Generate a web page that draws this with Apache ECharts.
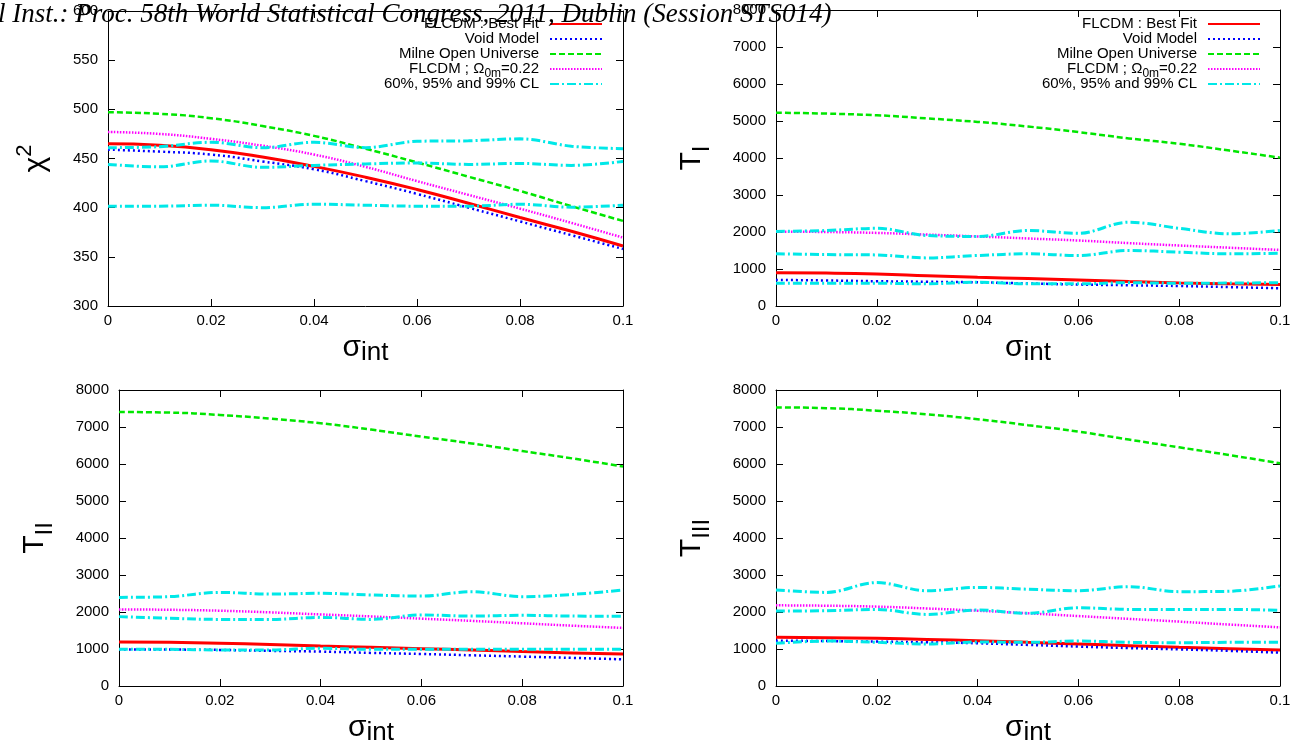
<!DOCTYPE html>
<html>
<head>
<meta charset="utf-8">
<script src="https://cdn.jsdelivr.net/npm/echarts@6/dist/echarts.min.js"></script>
<style>
  html, body { margin: 0; padding: 0; background: #fff; }
  #main { width: 1291px; height: 742px; }
</style>
</head>
<body>
<div id="main"></div>
<script>
var sigma = [0, 0.01, 0.02, 0.03, 0.04, 0.05, 0.06, 0.07, 0.08, 0.09, 0.1];
var names = ['FLCDM : Best Fit', 'Void Model', 'Milne Open Universe', 'FLCDM ; Ω0m=0.22', '60%, 95% and 99% CL'];

// chi^2
var chiBest  = [465, 463.5, 459, 451.5, 442, 431, 418.5, 404.5, 390, 376, 361];
var chiVoid  = [459, 457, 454, 447, 439, 427, 414, 400, 386, 372, 358];
var chiMilne = [497, 495.5, 491, 483, 473, 460, 446, 431.5, 417, 401.5, 386.5];
var chiLcdm  = [477, 475, 470, 463, 454, 441.5, 427, 413, 399, 384.5, 369.5];
var chiCL1   = [461, 462, 466.5, 461, 466.5, 461, 467.5, 468, 470, 462.5, 460];
var chiCL2   = [444, 441.5, 447.5, 441, 443, 444.5, 445.5, 444, 445, 443, 447];
var chiCL3   = [401.5, 401.5, 402.5, 400, 403.5, 402.5, 401.5, 401.5, 403.5, 400.5, 402.5];

// T_I
var t1Best  = [900, 890, 865, 820, 775, 740, 705, 660, 625, 600, 580];
var t1Void  = [705, 690, 670, 655, 640, 610, 580, 560, 540, 510, 480];
var t1Milne = [5225, 5200, 5155, 5070, 4975, 4850, 4700, 4530, 4385, 4200, 4010];
var t1Lcdm  = [2010, 2000, 1975, 1930, 1880, 1825, 1770, 1700, 1635, 1575, 1515];
var t1CL1   = [2015, 2040, 2100, 1905, 1880, 2040, 1965, 2265, 2100, 1950, 2040];
var t1CL2   = [1410, 1390, 1380, 1300, 1365, 1410, 1365, 1500, 1455, 1410, 1425];
var t1CL3   = [615, 615, 615, 600, 640, 600, 600, 630, 615, 620, 630];

// T_II
var t2Best  = [1190, 1180, 1155, 1120, 1080, 1045, 1010, 970, 930, 895, 865];
var t2Void  = [990, 985, 975, 950, 930, 895, 865, 830, 795, 760, 720];
var t2Milne = [7405, 7390, 7325, 7225, 7100, 6930, 6740, 6555, 6350, 6150, 5930];
var t2Lcdm  = [2070, 2060, 2035, 1990, 1935, 1880, 1820, 1760, 1695, 1630, 1570];
var t2CL1   = [2395, 2415, 2530, 2485, 2505, 2460, 2430, 2550, 2415, 2475, 2595];
var t2CL2   = [1875, 1830, 1800, 1800, 1855, 1800, 1920, 1890, 1910, 1890, 1885];
var t2CL3   = [990, 990, 975, 975, 1020, 990, 990, 990, 990, 990, 990];

// T_III
var t3Best  = [1315, 1305, 1290, 1260, 1225, 1180, 1135, 1090, 1045, 1010, 975];
var t3Void  = [1225, 1215, 1200, 1180, 1155, 1110, 1065, 1025, 990, 950, 900];
var t3Milne = [7530, 7510, 7440, 7340, 7210, 7050, 6875, 6660, 6450, 6240, 6020];
var t3Lcdm  = [2180, 2170, 2145, 2095, 2035, 1965, 1890, 1815, 1740, 1660, 1585];
var t3CL1   = [2595, 2530, 2795, 2575, 2665, 2615, 2575, 2685, 2550, 2560, 2705];
var t3CL2   = [2025, 2035, 2070, 1935, 2055, 1965, 2115, 2070, 2070, 2070, 2045];
var t3CL3   = [1155, 1215, 1180, 1135, 1190, 1180, 1215, 1180, 1170, 1180, 1180];

var panels = [
  { grid: { left: 108, top: 11, width: 515, height: 295 }, min: 300, max: 600, step: 50,
    yName: 'χ{sup|2}', lines: [chiBest, chiVoid, chiMilne, chiLcdm], cl: [chiCL1, chiCL2, chiCL3] },
  { grid: { left: 776, top: 10, width: 504, height: 296 }, min: 0, max: 8000, step: 1000,
    yName: 'T{sub|I}', lines: [t1Best, t1Void, t1Milne, t1Lcdm], cl: [t1CL1, t1CL2, t1CL3] },
  { grid: { left: 119, top: 390, width: 504, height: 296 }, min: 0, max: 8000, step: 1000,
    yName: 'T{sub|II}', lines: [t2Best, t2Void, t2Milne, t2Lcdm], cl: [t2CL1, t2CL2, t2CL3] },
  { grid: { left: 776, top: 390, width: 504, height: 296 }, min: 0, max: 8000, step: 1000,
    yName: 'T{sub|III}', lines: [t3Best, t3Void, t3Milne, t3Lcdm], cl: [t3CL1, t3CL2, t3CL3] }
];

var styles = [
  { color: '#ff0000', width: 3, type: 'solid' },
  { color: '#0000ff', width: 2.5, type: [2, 3] },
  { color: '#00e600', width: 2.5, type: [6, 3] },
  { color: '#ff00ff', width: 2.5, type: [1.5, 1.5] },
  { color: '#00e8e8', width: 3, type: [9, 3, 2, 3] }
];

var font = 'Liberation Sans';
var grids = [], xAxes = [], yAxes = [], series = [];

function pairs(arr) {
  return sigma.map(function (s, k) { return [s, arr[k]]; });
}
function tick() {
  return { show: true, inside: true, length: 7, lineStyle: { color: '#000', width: 1 } };
}
function axLine() {
  return { show: true, onZero: false, lineStyle: { color: '#000', width: 1 } };
}

panels.forEach(function (p, i) {
  var g = p.grid;
  grids.push({ left: g.left, top: g.top, width: g.width, height: g.height,
    containLabel: false, outerBoundsMode: 'none' });
  xAxes.push({
    type: 'value', gridIndex: i, position: 'bottom', min: 0, max: 0.1, interval: 0.02,
    axisLine: axLine(), axisTick: tick(), splitLine: { show: false },
    axisLabel: { color: '#000', fontSize: 15, fontFamily: font, margin: 7,
      formatter: function (v) { return String(Math.round(v * 100) / 100); } },
    name: 'σ{sub|int}', nameLocation: 'middle', nameGap: 4,
    nameTextStyle: { color: '#000', fontFamily: font, fontSize: 30, lineHeight: 37,
      rich: { sub: { fontSize: 26, fontFamily: font, color: '#000', verticalAlign: 'bottom', lineHeight: 26 } } }
  });
  xAxes.push({
    type: 'value', gridIndex: i, position: 'top', min: 0, max: 0.1, interval: 0.02,
    axisLine: axLine(), axisTick: tick(), splitLine: { show: false }, axisLabel: { show: false }
  });
  yAxes.push({
    type: 'value', gridIndex: i, position: 'left', min: p.min, max: p.max, interval: p.step,
    axisLine: axLine(), axisTick: tick(), splitLine: { show: false },
    axisLabel: { color: '#000', fontSize: 15, fontFamily: font, margin: 10,
      formatter: function (v) { return String(v); } },
    name: p.yName, nameLocation: 'middle', nameGap: i === 0 ? 50 : 62,
    nameTextStyle: { color: '#000', fontFamily: font, fontSize: 30, lineHeight: 44,
      rich: {
        sub: { fontSize: 24, fontFamily: font, color: '#000', verticalAlign: 'bottom', lineHeight: 24 },
        sup: { fontSize: 22, fontFamily: font, color: '#000', verticalAlign: 'top', lineHeight: 22 }
      } }
  });
  yAxes.push({
    type: 'value', gridIndex: i, position: 'right', min: p.min, max: p.max, interval: p.step,
    axisLine: axLine(), axisTick: tick(), splitLine: { show: false }, axisLabel: { show: false }
  });

  var all = p.lines.concat(p.cl);
  all.forEach(function (arr, j) {
    var k = Math.min(j, 4);
    series.push({
      name: names[k], type: 'line', xAxisIndex: 2 * i, yAxisIndex: 2 * i,
      data: pairs(arr), smooth: k === 4 ? 0.35 : true, symbol: 'none', showSymbol: false,
      lineStyle: styles[k], itemStyle: { color: styles[k].color }, z: 2 + k
    });
  });
});

function legendAt(right) {
  return {
    data: names, orient: 'vertical', align: 'right', right: right, top: 8,
    itemWidth: 52, itemHeight: 14, itemGap: -7, selectedMode: false,
    itemStyle: { opacity: 0 },
    formatter: function (n) { return n === names[3] ? 'FLCDM ; Ω{sub|0m}=0.22' : n; },
    textStyle: { color: '#000', fontFamily: font, fontSize: 15, lineHeight: 22, padding: [0, 6, 0, 0],
      rich: { sub: { fontSize: 12, fontFamily: font, color: '#000', verticalAlign: 'bottom', lineHeight: 12 } } }
  };
}

var chart = echarts.init(document.getElementById('main'));
chart.setOption({
  animation: false,
  backgroundColor: '#fff',
  grid: grids,
  xAxis: xAxes,
  yAxis: yAxes,
  legend: [legendAt(683), legendAt(25)],
  series: series,
  graphic: [{
    type: 'text', x: -2, y: 1, z: 100,
    style: {
      text: 'l Inst.: Proc. 58th World Statistical Congress, 2011, Dublin (Session STS014)',
      font: 'italic 27px "Liberation Serif"', fill: '#000', verticalAlign: 'top'
    }
  }]
});
</script>
</body>
</html>
